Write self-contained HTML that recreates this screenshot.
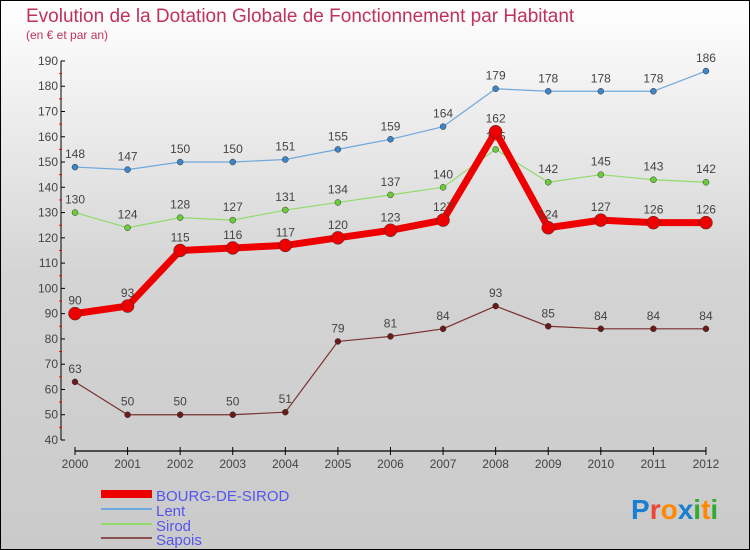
<!DOCTYPE html>
<html><head><meta charset="utf-8"><style>
body{margin:0}
#c{width:748px;height:548px;border:1px solid #000;background:linear-gradient(#fff,#d4d4d4 50%,#cacaca);position:relative;font-family:"Liberation Sans",sans-serif;overflow:hidden}
svg text{font-family:"Liberation Sans",sans-serif}
</style></head><body>
<div id="c">
<svg id="s" width="748" height="548">
<text x="25" y="21" font-size="19" fill="#c0325a">Evolution de la Dotation Globale de Fonctionnement par Habitant</text>
<text x="25" y="38" font-size="12" fill="#c0325a">(en € et par an)</text>
<g id="g"></g>
<text x="630" y="518" font-size="28" font-weight="bold"><tspan fill="#1a7fd0">P</tspan><tspan fill="#e43">r</tspan><tspan fill="#f80">o</tspan><tspan fill="#1a7fd0">x</tspan><tspan fill="#3a3">i</tspan><tspan fill="#f80">t</tspan><tspan fill="#3a3">i</tspan></text>
</svg>
</div>
<script>
const years=[2000,2001,2002,2003,2004,2005,2006,2007,2008,2009,2010,2011,2012];
const yTicks=[40,50,60,70,80,90,100,110,120,130,140,150,160,170,180,190];
const bourg=[90,93,115,116,117,120,123,127,162,124,127,126,126];
const lent=[148,147,150,150,151,155,159,164,179,178,178,178,186];
const sirod=[130,124,128,127,131,134,137,140,155,142,145,143,142];
const sapois=[63,50,50,50,51,79,81,84,93,85,84,84,84];
const NS="http://www.w3.org/2000/svg";
const g=document.getElementById('g');
const X=i=>74+i*52.58;
const Y=v=>439-(v-40)*2.527;
function el(t,a,p){const e=document.createElementNS(NS,t);for(const k in a)e.setAttribute(k,a[k]);(p||g).appendChild(e);return e;}
// axes
let ya=el('line',{x1:60,y1:Y(190),x2:60,y2:Y(40),stroke:'#000','stroke-width':1});


yTicks.forEach(v=>{
 el('line',{x1:60,y1:Y(v),x2:64,y2:Y(v),stroke:'#000'});
 if(v<190) el('line',{x1:58,y1:Y(v+5),x2:61,y2:Y(v+5),stroke:'#f00'});
 const t=el('text',{x:57,y:Y(v)+4,'font-size':12,fill:'#444','text-anchor':'end'});
 t.textContent=v;
 
 
});
let xa=el('line',{x1:X(0),y1:450,x2:X(12),y2:450,stroke:'#000','stroke-width':1.2});


years.forEach((yr,i)=>{
 el('line',{x1:X(i),y1:446,x2:X(i),y2:454,stroke:'#000'});
 const t=el('text',{x:X(i),y:467,'font-size':12,fill:'#444','text-anchor':'middle'});
 t.textContent=yr;
 
 
});
function series(d,color,w,r,dot,name){
 const p=el('polyline',{points:d.map((v,i)=>X(i)+','+Y(v)).join(' '),fill:'none',stroke:color,'stroke-width':w,'stroke-linejoin':'round'});
 
 
 d.forEach((v,i)=>{
  const c=el('circle',{cx:X(i),cy:Y(v),r:r,fill:dot,stroke:'#333','stroke-width':0.5});
  
  
  const t=el('text',{x:X(i),y:Y(v)-9,'font-size':12,fill:'#444','text-anchor':'middle'});
  t.textContent=v;
  
  
 });
}
series(lent,'#6fa8dc',1.2,3,'#3d85c6','lent');
series(sirod,'#8fdc6a',1.2,3,'#6acc3a','sirod');
series(sapois,'#7b3030',1.2,3,'#6b1a1a','sapois');
series(bourg,'#ee0000',7,6.5,'#ee0000','bourg');
// legend
const leg=[['BOURG-DE-SIROD','#ee0000',8],['Lent','#6fa8dc',2],['Sirod','#8fdc6a',2],['Sapois','#8a5050',2]];
leg.forEach((l,i)=>{
 const y=[529,551,573,594][i]/1.0;
 const yy=[493,508,523,537][i];
 el('line',{x1:100,y1:yy,x2:151,y2:yy,stroke:l[1],'stroke-width':l[2]});
 const t=el('text',{x:155,y:yy+7,'font-size':15,fill:'#5555ee'});
 t.textContent=l[0];
 
 
});
</script>
</body></html>
